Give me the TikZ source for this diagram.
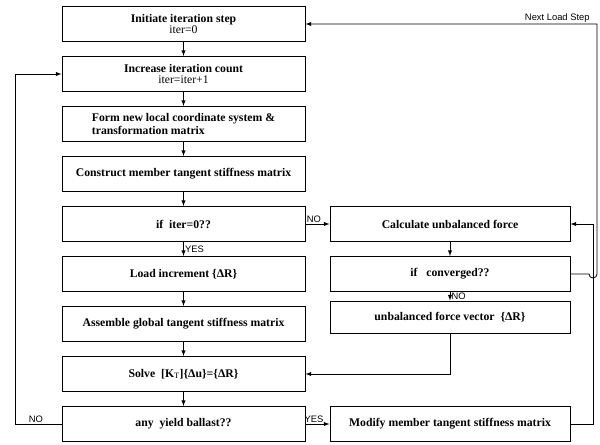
\documentclass[tikz,border=0pt]{standalone}
\usepackage{fontspec}
\setmainfont{Liberation Serif}
\newfontfamily\lblfont{Liberation Sans}
\usepackage{tikz}
\usetikzlibrary{shapes.geometric, arrows}

\begin{document}
\begin{tikzpicture}
        [
            x=0.03cm, y=-0.03cm,
            box/.style = {draw, shape=rectangle, minimum height=1.05cm, minimum width=7.29cm, line width=0.8pt, font=\fontsize{10}{11}\selectfont\bfseries, align=center},
            rbox/.style = {box, minimum width=7.2cm},
            lbl/.style = {font=\lblfont\fontsize{8}{9}\selectfont, inner sep=1pt},
            line/.style = {line width=0.7pt},
        ]
        \useasboundingbox (0,0) rectangle (600,444);

        \node[box] (b1) at (183.5,24)  {Initiate iteration step\\[-1pt]{\mdseries iter=0}};
        \node[box] (b2) at (183.5,74)  {Increase iteration count\\[-1pt]{\mdseries iter=iter+1}};
        \node[box, align=left] (b3) at (183.5,124) {Form new local coordinate system \&\\transformation matrix};
        \node[box] (b4) at (183.5,174) {Construct member tangent stiffness matrix};
        \node[box] (b5) at (183.5,224) {if\ \ iter=0??};
        \node[box] (b6) at (183.5,274) {Load increment \{ΔR\}};
        \node[box] (b7) at (183.5,324) {Assemble global tangent stiffness matrix};
        \node[box] (b8) at (183.5,374) {Solve\ \ [K$_\mathrm{T}$]\{Δu\}=\{ΔR\}};
        \node[box] (b9) at (183.5,424) {any\ \ yield ballast??};

        \node[rbox] (c1) at (450,224) {Calculate unbalanced force};
        \node[rbox] (c2) at (450,274) {if\ \ \ converged??};
        \node[rbox, minimum height=0.96cm] (c3) at (450,317) {unbalanced force vector\ \ \{ΔR\}};
        \node[rbox] (c4) at (450,424) {Modify member tangent stiffness matrix};

        \coordinate (loopL) at (15,0);
        \coordinate (loopR) at (593,0);
        \coordinate (nextR) at (597,0);

        \draw [line, -latex] (b1.south) -- (b2.north);
        \draw [line, -latex] (b2.south) -- (b3.north);
        \draw [line, -latex] (b3.south) -- (b4.north);
        \draw [line, -latex] (b4.south) -- (b5.north);
        \draw [line, -latex] (b5.south) -- node[lbl, right] {YES} (b6.north);
        \draw [line, -latex] (b6.south) -- (b7.north);
        \draw [line, -latex] (b7.south) -- (b8.north);
        \draw [line, -latex] (b8.south) -- (b9.north);

        \draw [line, -latex] (b5.east) -- node[lbl, above, pos=0.35] {NO} (c1.west);
        \draw [line, -latex] (b9.east) -- node[lbl, above, pos=0.35] {YES} (c4.west);
        \draw [line, -latex] (c1.south) -- (c2.north);
        \draw [line, -latex] (c2.south) -- node[lbl, right] {NO} (c3.north);
        \draw [line, -latex] (c3.south) |- (b8.east);

        \draw [line, -latex] (b9.west) -- node[lbl, above, pos=0.55] {NO} (loopL |- b9.west) |- (b2.west);
        \draw [line, -latex] (c4.east) -| (loopR |- c1.east) -- (c1.east);
        \draw [line, -latex] (c2.east) -- (589,274) arc[start angle=180, end angle=0, radius=4]
            -- (nextR |- b1.east) -- node[lbl, above, pos=0.02, anchor=south east] {Next Load Step} (b1.east);
\end{tikzpicture}
\end{document}
